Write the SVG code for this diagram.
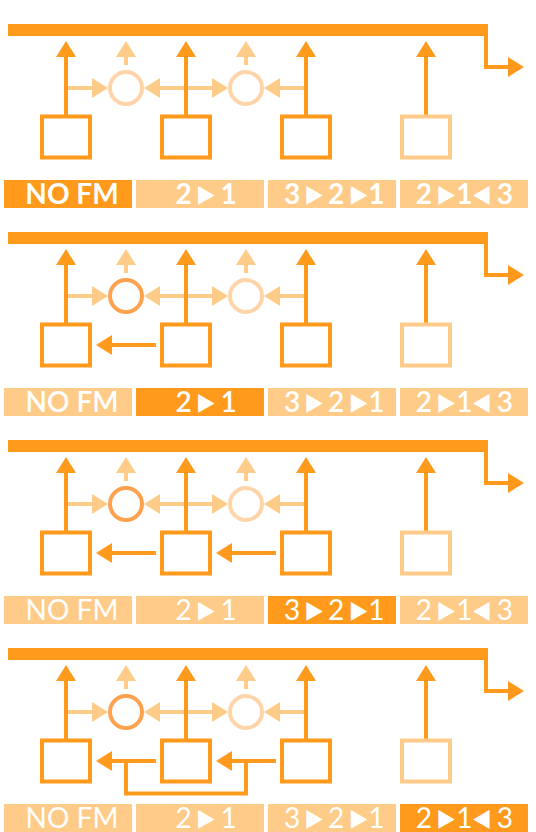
<svg xmlns="http://www.w3.org/2000/svg" width="536" height="832" viewBox="0 0 536 832">
<style>
.bus{fill:#FF9A1C}
.main{stroke:#FF9A1C;stroke-width:4;fill:none}
.lt{stroke:#FFCB88;stroke-width:4;fill:none}
.box{fill:#fff;stroke:#FF9A1C;stroke-width:4}
.box.off{stroke:#FFCB88}
.circ{fill:none;stroke:#FFD4A9;stroke-width:4}
.circ.on{stroke:#FFA24F}
.cell{fill:#FFCB88}
.cell.on{fill:#FF9A1C}
.lbl{font-family:Lato,"Liberation Sans",sans-serif;font-size:28px;fill:#fff;text-anchor:middle}
.w1{font-weight:700}.w2{font-weight:600}.w3{font-weight:400}
.tri{font-family:"Noto Sans CJK JP","DejaVu Sans",sans-serif;font-size:20px;font-weight:400}
</style>
<defs>
<marker id="hm" viewBox="0 0 16 20" refX="0" refY="10" markerWidth="16" markerHeight="20" markerUnits="userSpaceOnUse" orient="auto-start-reverse"><path d="M0,0 L16,10 L0,20 Z" fill="#FF9A1C"/></marker>
<marker id="hl" viewBox="0 0 16 20" refX="0" refY="10" markerWidth="16" markerHeight="20" markerUnits="userSpaceOnUse" orient="auto-start-reverse"><path d="M0,0 L16,10 L0,20 Z" fill="#FFCB88"/></marker>
<g id="base-conn">
<line class="lt" x1="68" y1="88" x2="92" y2="88" marker-end="url(#hl)"/>
<line class="lt" x1="160" y1="88" x2="212" y2="88" marker-start="url(#hl)" marker-end="url(#hl)"/>
<line class="lt" x1="304" y1="88" x2="280" y2="88" marker-end="url(#hl)"/>
<line class="lt" x1="126" y1="65" x2="126" y2="57" marker-end="url(#hl)"/>
<line class="lt" x1="246" y1="65" x2="246" y2="57" marker-end="url(#hl)"/>
<line class="main" x1="66" y1="115" x2="66" y2="57" marker-end="url(#hm)"/>
<line class="main" x1="186" y1="115" x2="186" y2="57" marker-end="url(#hm)"/>
<line class="main" x1="306" y1="115" x2="306" y2="57" marker-end="url(#hm)"/>
<line class="main" x1="426" y1="115" x2="426" y2="57" marker-end="url(#hm)"/>
<path class="main" d="M486,30 V67 H508" marker-end="url(#hm)"/>
</g>
</defs>

<!-- Panel 1 -->
<g id="panel1">
<g id="p1-connectors"><use href="#base-conn"/></g>
<g id="p1-bus"><rect class="bus" x="8" y="24" width="480" height="12"/></g>
<g id="p1-op1"><rect class="box" x="42" y="116.5" width="48" height="41"/></g>
<g id="p1-op2"><rect class="box" x="162" y="116.5" width="48" height="41"/></g>
<g id="p1-op3"><rect class="box" x="282" y="116.5" width="48" height="41"/></g>
<g id="p1-op4"><rect class="box off" x="402" y="116.5" width="48" height="41"/></g>
<g id="p1-mix1"><circle class="circ" cx="126" cy="88" r="16"/></g>
<g id="p1-mix2"><circle class="circ" cx="246" cy="88" r="16"/></g>
<g id="p1-labels">
<rect class="cell on" x="4" y="180" width="128" height="28"/>
<rect class="cell" x="136" y="180" width="128" height="28"/>
<rect class="cell" x="268" y="180" width="128" height="28"/>
<rect class="cell" x="400" y="180" width="128" height="28"/>
<text class="lbl w1" x="72" y="204">NO FM</text>
<text class="lbl w1" y="204"><tspan x="183.6" y="204">2</tspan><tspan class="tri" x="205.7" y="202.7">▶</tspan><tspan x="228.7" y="204">1</tspan></text>
<text class="lbl w1" y="204"><tspan x="292.2" y="204">3</tspan><tspan class="tri" x="314.1" y="202.7">▶</tspan><tspan x="336.1" y="204">2</tspan><tspan class="tri" x="358.6" y="202.7">▶</tspan><tspan x="376.4" y="204">1</tspan></text>
<text class="lbl w1" y="204"><tspan x="423.8" y="204">2</tspan><tspan class="tri" x="446" y="202.7">▶</tspan><tspan x="464.3" y="204">1</tspan><tspan class="tri" x="482" y="202.7">◀</tspan><tspan x="504.8" y="204">3</tspan></text>
</g>
</g>

<!-- Panel 2 -->
<g id="panel2" transform="translate(0,208)">
<g id="p2-connectors"><use href="#base-conn"/>
<line class="main" x1="156" y1="137" x2="112" y2="137" marker-end="url(#hm)"/></g>
<g id="p2-bus"><rect class="bus" x="8" y="24" width="480" height="12"/></g>
<g id="p2-op1"><rect class="box" x="42" y="116.5" width="48" height="41"/></g>
<g id="p2-op2"><rect class="box" x="162" y="116.5" width="48" height="41"/></g>
<g id="p2-op3"><rect class="box" x="282" y="116.5" width="48" height="41"/></g>
<g id="p2-op4"><rect class="box off" x="402" y="116.5" width="48" height="41"/></g>
<g id="p2-mix1"><circle class="circ on" cx="126" cy="88" r="16"/></g>
<g id="p2-mix2"><circle class="circ" cx="246" cy="88" r="16"/></g>
<g id="p2-labels">
<rect class="cell" x="4" y="180" width="128" height="28"/>
<rect class="cell on" x="136" y="180" width="128" height="28"/>
<rect class="cell" x="268" y="180" width="128" height="28"/>
<rect class="cell" x="400" y="180" width="128" height="28"/>
<text class="lbl w2" x="72" y="204">NO FM</text>
<text class="lbl w2" y="204"><tspan x="183.6" y="204">2</tspan><tspan class="tri" x="205.7" y="202.7">▶</tspan><tspan x="228.7" y="204">1</tspan></text>
<text class="lbl w2" y="204"><tspan x="292.2" y="204">3</tspan><tspan class="tri" x="314.1" y="202.7">▶</tspan><tspan x="336.1" y="204">2</tspan><tspan class="tri" x="358.6" y="202.7">▶</tspan><tspan x="376.4" y="204">1</tspan></text>
<text class="lbl w2" y="204"><tspan x="423.8" y="204">2</tspan><tspan class="tri" x="446" y="202.7">▶</tspan><tspan x="464.3" y="204">1</tspan><tspan class="tri" x="482" y="202.7">◀</tspan><tspan x="504.8" y="204">3</tspan></text>
</g>
</g>

<!-- Panel 3 -->
<g id="panel3" transform="translate(0,416)">
<g id="p3-connectors"><use href="#base-conn"/>
<line class="main" x1="156" y1="137" x2="112" y2="137" marker-end="url(#hm)"/>
<line class="main" x1="276" y1="137" x2="232" y2="137" marker-end="url(#hm)"/></g>
<g id="p3-bus"><rect class="bus" x="8" y="24" width="480" height="12"/></g>
<g id="p3-op1"><rect class="box" x="42" y="116.5" width="48" height="41"/></g>
<g id="p3-op2"><rect class="box" x="162" y="116.5" width="48" height="41"/></g>
<g id="p3-op3"><rect class="box" x="282" y="116.5" width="48" height="41"/></g>
<g id="p3-op4"><rect class="box off" x="402" y="116.5" width="48" height="41"/></g>
<g id="p3-mix1"><circle class="circ on" cx="126" cy="88" r="16"/></g>
<g id="p3-mix2"><circle class="circ" cx="246" cy="88" r="16"/></g>
<g id="p3-labels">
<rect class="cell" x="4" y="180" width="128" height="28"/>
<rect class="cell" x="136" y="180" width="128" height="28"/>
<rect class="cell on" x="268" y="180" width="128" height="28"/>
<rect class="cell" x="400" y="180" width="128" height="28"/>
<text class="lbl w3" x="72" y="204">NO FM</text>
<text class="lbl w3" y="204"><tspan x="183.6" y="204">2</tspan><tspan class="tri" x="205.7" y="202.7">▶</tspan><tspan x="228.7" y="204">1</tspan></text>
<text class="lbl w3" y="204"><tspan x="292.2" y="204">3</tspan><tspan class="tri" x="314.1" y="202.7">▶</tspan><tspan x="336.1" y="204">2</tspan><tspan class="tri" x="358.6" y="202.7">▶</tspan><tspan x="376.4" y="204">1</tspan></text>
<text class="lbl w3" y="204"><tspan x="423.8" y="204">2</tspan><tspan class="tri" x="446" y="202.7">▶</tspan><tspan x="464.3" y="204">1</tspan><tspan class="tri" x="482" y="202.7">◀</tspan><tspan x="504.8" y="204">3</tspan></text>
</g>
</g>

<!-- Panel 4 -->
<g id="panel4" transform="translate(0,624)">
<g id="p4-connectors"><use href="#base-conn"/>
<path class="main" d="M126,137 V169.5 H246 V137"/>
<line class="main" x1="156" y1="137" x2="112" y2="137" marker-end="url(#hm)"/>
<line class="main" x1="276" y1="137" x2="232" y2="137" marker-end="url(#hm)"/></g>
<g id="p4-bus"><rect class="bus" x="8" y="24" width="480" height="12"/></g>
<g id="p4-op1"><rect class="box" x="42" y="116.5" width="48" height="41"/></g>
<g id="p4-op2"><rect class="box" x="162" y="116.5" width="48" height="41"/></g>
<g id="p4-op3"><rect class="box" x="282" y="116.5" width="48" height="41"/></g>
<g id="p4-op4"><rect class="box off" x="402" y="116.5" width="48" height="41"/></g>
<g id="p4-mix1"><circle class="circ on" cx="126" cy="88" r="16"/></g>
<g id="p4-mix2"><circle class="circ" cx="246" cy="88" r="16"/></g>
<g id="p4-labels">
<rect class="cell" x="4" y="180" width="128" height="28"/>
<rect class="cell" x="136" y="180" width="128" height="28"/>
<rect class="cell" x="268" y="180" width="128" height="28"/>
<rect class="cell on" x="400" y="180" width="128" height="28"/>
<text class="lbl w3" x="72" y="204">NO FM</text>
<text class="lbl w3" y="204"><tspan x="183.6" y="204">2</tspan><tspan class="tri" x="205.7" y="202.7">▶</tspan><tspan x="228.7" y="204">1</tspan></text>
<text class="lbl w3" y="204"><tspan x="292.2" y="204">3</tspan><tspan class="tri" x="314.1" y="202.7">▶</tspan><tspan x="336.1" y="204">2</tspan><tspan class="tri" x="358.6" y="202.7">▶</tspan><tspan x="376.4" y="204">1</tspan></text>
<text class="lbl w3" y="204"><tspan x="423.8" y="204">2</tspan><tspan class="tri" x="446" y="202.7">▶</tspan><tspan x="464.3" y="204">1</tspan><tspan class="tri" x="482" y="202.7">◀</tspan><tspan x="504.8" y="204">3</tspan></text>
</g>
</g>
</svg>
